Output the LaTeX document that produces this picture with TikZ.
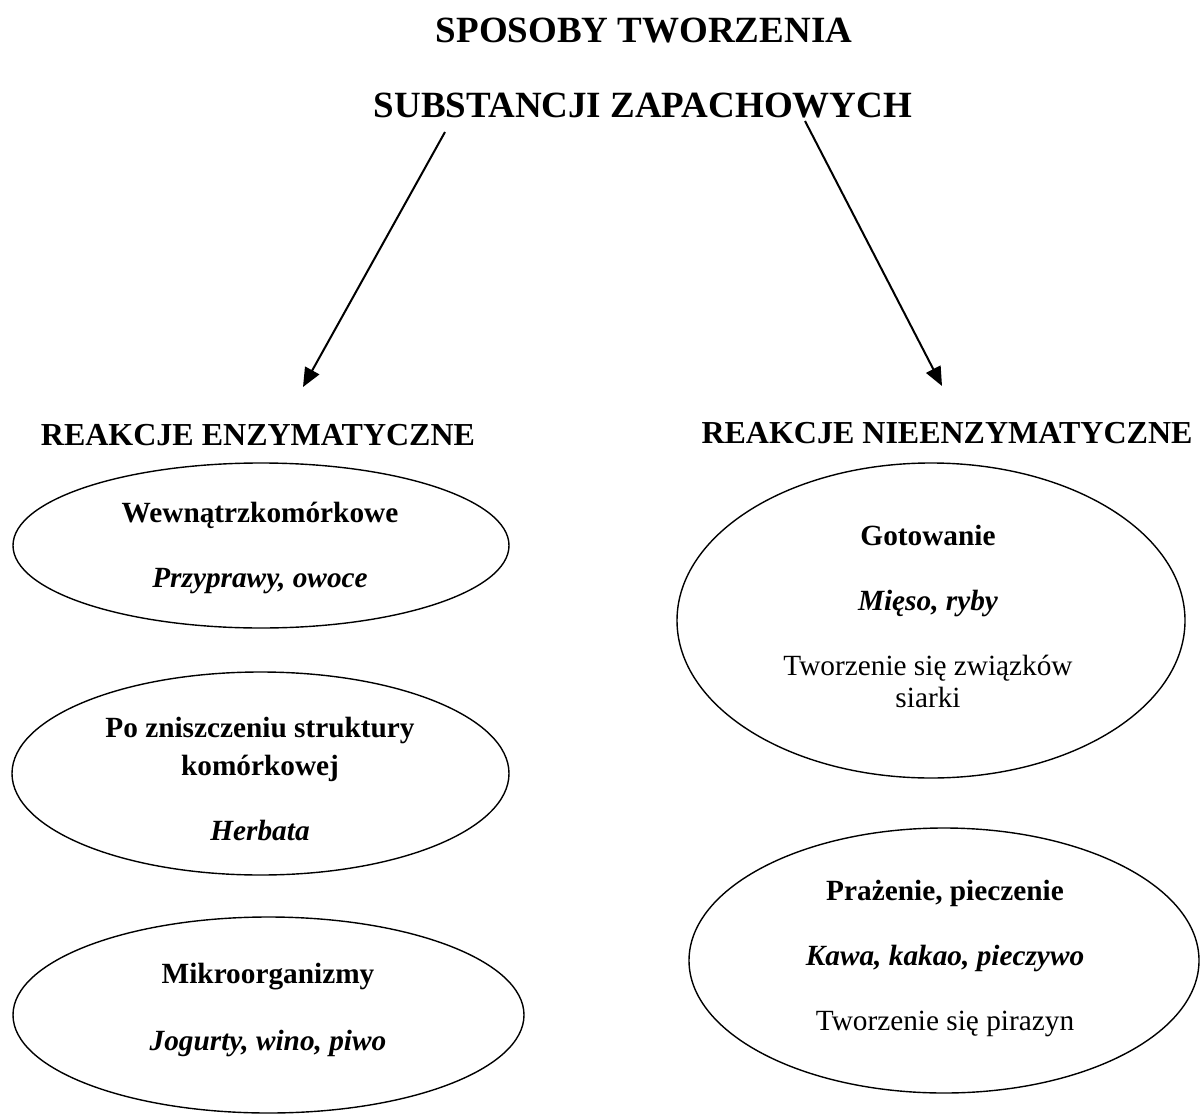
\documentclass[tikz,border=0pt]{standalone}
\usepackage{fontspec}
\setmainfont{Liberation Serif}
\usetikzlibrary{shapes.geometric,arrows.meta}
\begin{document}
\begin{tikzpicture}[x=1pt,y=-1pt,
  titlef/.style={anchor=base,font=\fontsize{37}{44}\selectfont\bfseries},
  headf/.style={anchor=base,font=\fontsize{32}{38}\selectfont\bfseries},
  bodyb/.style={anchor=base,font=\fontsize{29.3}{34}\selectfont\bfseries},
  bodyi/.style={anchor=base,font=\fontsize{29.3}{34}\selectfont\bfseries\itshape},
  bodyr/.style={anchor=base,font=\fontsize{29.3}{34}\selectfont},
  oval/.style={draw,line width=1.4pt,ellipse,inner sep=0pt},
  arr/.style={line width=2pt,-{Triangle[length=19pt,width=16pt]}}]
\useasboundingbox (0,0) rectangle (1201,1115);
\node[titlef] (t1) at (644,43) {SPOSOBY TWORZENIA};
\node[titlef] (t2) at (643,118) {SUBSTANCJI ZAPACHOWYCH};
\coordinate (la) at (445,132);
\coordinate (lb) at (303,387);
\coordinate (ra) at (805,121);
\coordinate (rb) at (942,386);
\draw[arr] (la) -- (lb);
\draw[arr] (ra) -- (rb);
\node[headf] (hl) at (258,445) {REAKCJE ENZYMATYCZNE};
\node[headf] (hr) at (947,443) {REAKCJE NIEENZYMATYCZNE};
% left column
\node[oval,minimum width=496pt,minimum height=165pt] (e1) at (261,545.5) {};
\node[bodyb] (e1a) at (260,522) {Wewnątrzkomórkowe};
\node[bodyi] (e1b) at (260,587) {Przyprawy, owoce};
\node[oval,minimum width=497pt,minimum height=203pt] (e2) at (260.5,773.5) {};
\node[bodyb] (e2a) at (260,737) {Po zniszczeniu struktury};
\node[bodyb] (e2b) at (260,775) {komórkowej};
\node[bodyi] (e2c) at (260,840) {Herbata};
\node[oval,minimum width=511pt,minimum height=196pt] (e3) at (268.5,1015) {};
\node[bodyb] (e3a) at (268,983) {Mikroorganizmy};
\node[bodyi] (e3b) at (268,1050) {Jogurty, wino, piwo};
% right column
\node[oval,minimum width=508pt,minimum height=315pt] (e4) at (931,620.5) {};
\node[bodyb] (e4a) at (928,545) {Gotowanie};
\node[bodyi] (e4b) at (928,610) {Mięso, ryby};
\node[bodyr] (e4c) at (928,675) {Tworzenie się związków};
\node[bodyr] (e4d) at (928,707) {siarki};
\node[oval,minimum width=510pt,minimum height=265pt] (e5) at (944,960.5) {};
\node[bodyb] (e5a) at (945,900) {Prażenie, pieczenie};
\node[bodyi] (e5b) at (945,965) {Kawa, kakao, pieczywo};
\node[bodyr] (e5c) at (945,1030) {Tworzenie się pirazyn};
\end{tikzpicture}
\end{document}
